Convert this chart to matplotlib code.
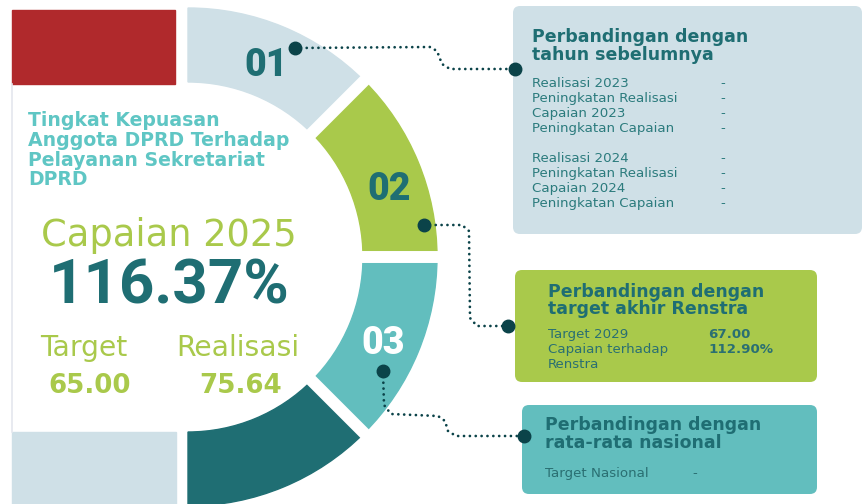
import math
import matplotlib
matplotlib.use('Agg')
import matplotlib.pyplot as plt
from matplotlib.patches import Wedge, Rectangle, FancyBboxPatch

# --- data ---
title_lines = ['Tingkat Kepuasan', 'Anggota DPRD Terhadap', 'Pelayanan Sekretariat', 'DPRD']
capaian_label = 'Capaian 2025'
capaian_value = '116.37%'
target_value = 65.00
realisasi_value = 75.64

segment_labels = ['01', '02', '03', '']
segment_colors = ['#cfe0e7', '#a9c94b', '#62bebe', '#1f6e73']
label_colors = ['#1f6e73', '#1f6e73', '#ffffff', '#ffffff']

box1_title = ['Perbandingan dengan', 'tahun sebelumnya']
box1_items = ['Realisasi 2023', 'Peningkatan Realisasi', 'Capaian 2023', 'Peningkatan Capaian',
              'Realisasi 2024', 'Peningkatan Realisasi', 'Capaian 2024', 'Peningkatan Capaian']
box1_values = ['-', '-', '-', '-', '-', '-', '-', '-']

box2_title = ['Perbandingan dengan', 'target akhir Renstra']
box2_items = ['Target 2029', 'Capaian terhadap', 'Renstra']
box2_values = ['67.00', '112.90%', '']

box3_title = ['Perbandingan dengan', 'rata-rata nasional']
box3_items = ['Target Nasional']
box3_values = ['-']

DARK = '#1f6e73'
DOT = '#0b4349'
GREEN = '#a9c94b'
TEAL = '#62bebe'
LIGHT = '#cfe0e7'
FONT = 'DejaVu Sans'

fig = plt.figure(figsize=(8.64, 5.04), dpi=100)
ax = fig.add_axes([0, 0, 1, 1])
ax.set_xlim(0, 864)
ax.set_ylim(504, 0)
ax.axis('off')

# left panel
ax.add_patch(Rectangle((12, 10), 163, 74, color='#b0292c', zorder=1))
ax.add_patch(Rectangle((12, 432), 164, 80, color=LIGHT, zorder=1))
ax.plot([12, 12], [84, 432], color='#e4e6ee', lw=1.2, zorder=1)

# ring
cx, cy, r_out, r_in = 188, 257, 249, 175
for i, col in enumerate(segment_colors):
    t1 = -90 + 45 * i
    ax.add_patch(Wedge((cx, cy), r_out, t1, t1 + 45, width=r_out - r_in, color=col, zorder=2))
for ang in (-45, 0, 45):
    a = math.radians(ang)
    ax.plot([cx, cx + 270 * math.cos(a)], [cy, cy + 270 * math.sin(a)],
            color='white', lw=8.6, solid_capstyle='butt', zorder=3)

label_pos = [(266, 66), (389, 189), (383, 344)]
for (x, y), lab, c in zip(label_pos, segment_labels, label_colors):
    ax.text(x, y, lab, color=c, fontsize=27, fontweight='black', family='Roboto',
            ha='center', va='center', zorder=4)

# left texts
for k, line in enumerate(title_lines):
    ax.text(28, 119 + 19.5 * k, line, color='#5fc6c4', fontsize=13.6, fontweight='bold',
            family=FONT, ha='left', va='center_baseline', zorder=4)
ax.text(41, 231, capaian_label, color=GREEN, fontsize=26.5, family=FONT,
        ha='left', va='center_baseline', zorder=4)
ax.text(49, 280, capaian_value, color=DARK, fontsize=44.5, fontweight='bold', family='Roboto',
        ha='left', va='center_baseline', zorder=4)
ax.text(40, 345, 'Target', color=GREEN, fontsize=20.3, family=FONT,
        ha='left', va='center_baseline', zorder=4)
ax.text(176, 345, 'Realisasi', color=GREEN, fontsize=20.3, family=FONT,
        ha='left', va='center_baseline', zorder=4)
ax.text(48, 383, f'{target_value:.2f}', color=GREEN, fontsize=18.8, fontweight='bold',
        family=FONT, ha='left', va='center_baseline', zorder=4)
ax.text(199, 383, f'{realisasi_value:.2f}', color=GREEN, fontsize=18.8, fontweight='bold',
        family=FONT, ha='left', va='center_baseline', zorder=4)


def box(x0, y0, x1, y1, color):
    ax.add_patch(FancyBboxPatch((x0, y0), x1 - x0, y1 - y0,
                                boxstyle='round,pad=0,rounding_size=7',
                                fc=color, ec='none', zorder=1))


def box_text(x, ys_title, title, ys_items, items, vx, values, item_col):
    for y, t in zip(ys_title, title):
        ax.text(x, y, t, color=DARK, fontsize=12.5, fontweight='bold', family=FONT,
                ha='left', va='center_baseline', zorder=4)
    for y, t, v in zip(ys_items, items, values):
        ax.text(x, y, t, color=item_col, fontsize=9.6, family=FONT,
                ha='left', va='center_baseline', zorder=4)
        if v:
            ax.text(vx, y, v, color=item_col, fontsize=9.6,
                    fontweight='bold' if v != '-' else 'normal', family=FONT,
                    ha='left', va='center_baseline', zorder=4)


box(513, 6, 862, 234, LIGHT)
box_text(532, [35, 53], box1_title,
         [82, 97, 112, 127, 157, 172, 187, 202], box1_items, 720, box1_values, '#2b7b7d')

box(515, 270, 817, 382, GREEN)
box_text(548, [290, 307], box2_title, [333, 348, 363], box2_items, 708, box2_values, '#2a6f72')

box(522, 405, 817, 494, TEAL)
box_text(545, [423, 441], box3_title, [472], box3_items, 692, box3_values, '#2a6f72')

# connectors
dot_style = dict(color=DOT, lw=2, linestyle=(0, (0.01, 2.1)), dash_capstyle='round', zorder=5)
paths = [
    ([295, 430, 437, 442, 450, 515], [48, 47, 51, 64, 69, 69]),
    ([424, 462, 469, 470, 477, 508], [225, 225, 231, 318, 326, 326]),
    ([383, 384, 391, 438, 445, 448, 456, 524], [371, 405, 414, 416, 421, 431, 436, 436]),
]
for xs, ys in paths:
    ax.plot(xs, ys, **dot_style)
    ax.plot([xs[0], xs[-1]], [ys[0], ys[-1]], 'o', color=DOT, ms=9, zorder=6)

fig.savefig('out.png', dpi=100)
